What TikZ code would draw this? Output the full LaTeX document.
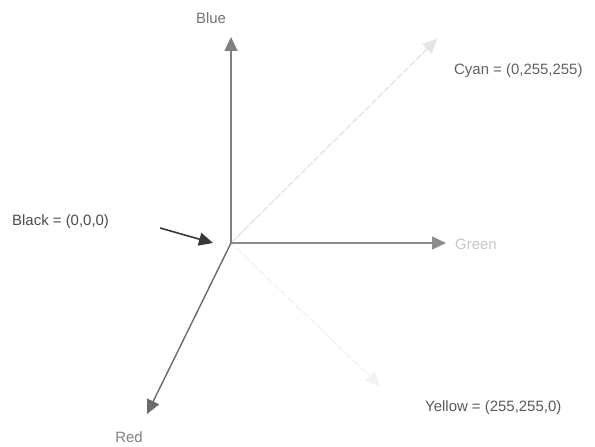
\documentclass[tikz,border=0pt]{standalone}
\usepackage{fontspec}
\setmainfont{Liberation Sans}
\usetikzlibrary{arrows.meta}
\begin{document}
\begin{tikzpicture}[x=1bp,y=-1bp,
  axis/.style={line width=1.4bp,-{Triangle[length=14bp,width=13bp]}},
  lbl/.style={inner sep=0pt,font=\fontsize{15}{17}\selectfont},
]
\useasboundingbox[fill=white] (0,0) rectangle (595,447);
\coordinate (O) at (231,243);
\coordinate (blueTip) at (231,37);
\coordinate (greenTip) at (446,243);
\coordinate (redTip) at (147,414);
\coordinate (cyanTip) at (437,39);
\coordinate (yellowTip) at (380,386);
\coordinate (blackStart) at (160,228);
\coordinate (blackTip) at (213,243);
% faint diagonals
\draw[axis,draw=black!10,fill=black!25,dash pattern=on 6bp off 3bp] (O) -- (cyanTip);
\draw[axis,draw=black!5,fill=black!17,dash pattern=on 5bp off 5bp] (O) -- (yellowTip);
% axes
\draw[axis,draw=black!50,fill=black!58] (O) -- (blueTip);
\draw[axis,draw=black!45,fill=black!45] (O) -- (greenTip);
\draw[axis,draw=black!58,fill=black!58] (O) -- (redTip);
\draw[line width=1.6bp,draw=black!78,-{Triangle[length=14bp,width=13bp]}] (blackStart) -- (blackTip);
% labels
\node[lbl,text=black!55] (blue) at (211,18) {Blue};
\node[lbl,text=black!62,anchor=west] (cyan) at (454,71) {Cyan = (0,255,255)};
\node[lbl,text=black!70,anchor=west] (black) at (12,222) {Black = (0,0,0)};
\node[lbl,text=black!22,anchor=west] (green) at (455,244) {Green};
\node[lbl,text=black!50] (red) at (129,437) {Red};
\node[lbl,text=black!65,anchor=west] (yellow) at (425,408) {Yellow = (255,255,0)};
\end{tikzpicture}
\end{document}
